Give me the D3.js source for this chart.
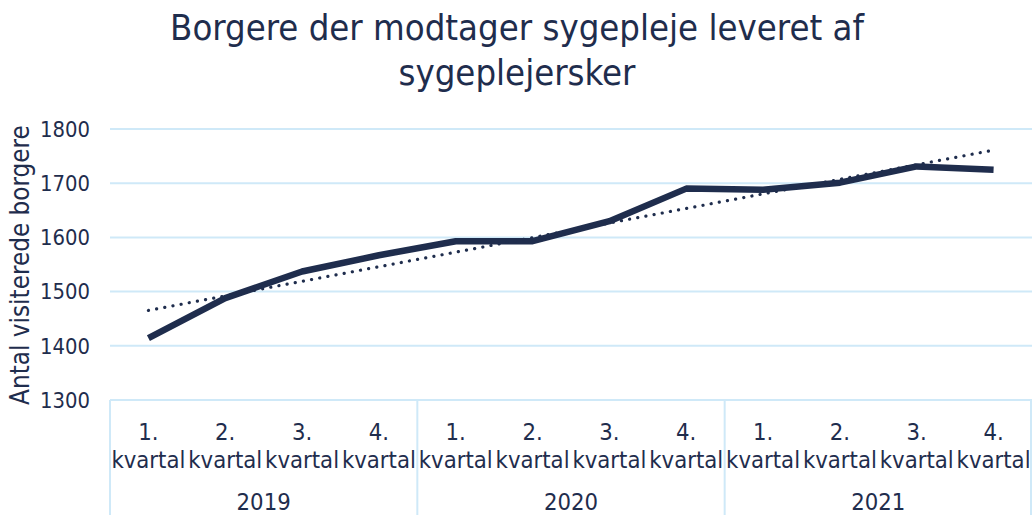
<!DOCTYPE html>
<html><head><meta charset="utf-8">
<script src="https://cdn.jsdelivr.net/npm/d3@7"></script>
<style>body{margin:0;background:#fff}svg{display:block}</style>
</head><body><svg id="c" width="1032" height="515"></svg>
<script>
const quarters = ["1. kvartal","2. kvartal","3. kvartal","4. kvartal"];
const years = ["2019","2020","2021"];
const values = [1414,1488,1537,1567,1593,1593,1630,1690,1688,1701,1731,1725];
const yTicks = [1300,1400,1500,1600,1700,1800];
const titleLines = ["Borgere der modtager sygepleje leveret af","sygeplejersker"];
const yTitle = "Antal visiterede borgere";

const cats = [];
years.forEach(y => quarters.forEach(q => cats.push(y + "|" + q)));

const svg = d3.select("#c");
const font = "'DejaVu Sans Condensed', 'DejaVu Sans', Verdana, sans-serif";
const txt = "#1f2d4d", lineCol = "#1f2d4d", grid = "#cfe9f8";
const L = 110, R = 1032, T = 129, B = 400;

const x = d3.scaleBand().domain(cats).range([L, R]);
const y = d3.scaleLinear().domain([1300, 1800]).range([B, T]);

// gridlines
svg.append("g").selectAll("line").data(yTicks).join("line")
  .attr("x1", L).attr("x2", R).attr("y1", d => y(d)).attr("y2", d => y(d))
  .attr("stroke", grid).attr("stroke-width", 2);

// fit text to measured widths
function fit(sel, w) {
  sel.each(function() {
    const l = this.getComputedTextLength();
    const fs = parseFloat(this.style.fontSize);
    this.style.fontSize = (fs * w / l) + "px";
  });
}

// y tick labels
svg.append("g").selectAll("text").data(yTicks).join("text")
  .attr("x", 90).attr("y", d => y(d)).attr("dy", "0.36em")
  .attr("text-anchor", "end").attr("fill", txt)
  .style("font-family", font).style("font-size", "22px").text(d => d)
  .call(fit, 50);

// y title
svg.append("text").attr("transform", "translate(29,265) rotate(-90)")
  .attr("text-anchor", "middle").attr("fill", txt)
  .style("font-family", font).style("font-size", "25px").text(yTitle)
  .call(fit, 280);

// title
const tl = svg.append("g").selectAll("text").data(titleLines).join("text")
  .attr("x", 517).attr("y", (d, i) => 40 + i * 45)
  .attr("text-anchor", "middle").attr("fill", txt)
  .style("font-family", font).style("font-size", "35px").text(d => d);
const tscale = 694 / tl.nodes()[0].getComputedTextLength();
tl.style("font-size", (35 * tscale) + "px");

// x axis group separators
const bw = x.bandwidth();
const seps = years.map((yr, i) => x(yr + "|" + quarters[0]));
seps.push(R - 1);
svg.append("g").selectAll("line").data(seps).join("line")
  .attr("x1", d => d).attr("x2", d => d).attr("y1", B).attr("y2", 515)
  .attr("stroke", grid).attr("stroke-width", 2);

// category labels
const cg = svg.append("g").style("font-family", font).style("font-size", "23px").attr("fill", txt);
cats.forEach(c => {
  const q = c.split("|")[1].split(" ");
  const cx = x(c) + bw / 2;
  cg.append("text").attr("x", cx).attr("y", 440).attr("text-anchor", "middle").text(q[0]);
  cg.append("text").attr("x", cx).attr("y", 468).attr("text-anchor", "middle").attr("class", "kv").text(q[1]);
});
years.forEach(yr => {
  const x0 = x(yr + "|" + quarters[0]), x1 = x(yr + "|" + quarters[3]) + bw;
  cg.append("text").attr("x", (x0 + x1) / 2).attr("y", 510).attr("text-anchor", "middle").text(yr);
});
const kl = cg.select(".kv").node().getComputedTextLength();
cg.style("font-size", (23 * 74 / kl) + "px");

// linear trendline (least squares, as in the original chart)
const n = values.length;
const xs = d3.range(1, n + 1);
const mx = d3.mean(xs), my = d3.mean(values);
const slope = d3.sum(xs, (xi, i) => (xi - mx) * (values[i] - my)) / d3.sum(xs, xi => (xi - mx) ** 2);
const icpt = my - slope * mx;
const trend = [[cats[0], icpt + slope * 1], [cats[n - 1], icpt + slope * n]];

const px = c => x(c) + bw / 2;

svg.append("path").datum(values.map((v, i) => [cats[i], v]))
  .attr("d", d3.line().x(d => px(d[0])).y(d => y(d[1])))
  .attr("fill", "none").attr("stroke", lineCol).attr("stroke-width", 6.5)
  .attr("stroke-linejoin", "round");

svg.append("path").datum(trend)
  .attr("d", d3.line().x(d => px(d[0])).y(d => y(d[1])))
  .attr("fill", "none").attr("stroke", lineCol).attr("stroke-width", 3.2)
  .attr("stroke-linecap", "round").attr("stroke-dasharray", "0.1 8.2");
</script></body></html>
